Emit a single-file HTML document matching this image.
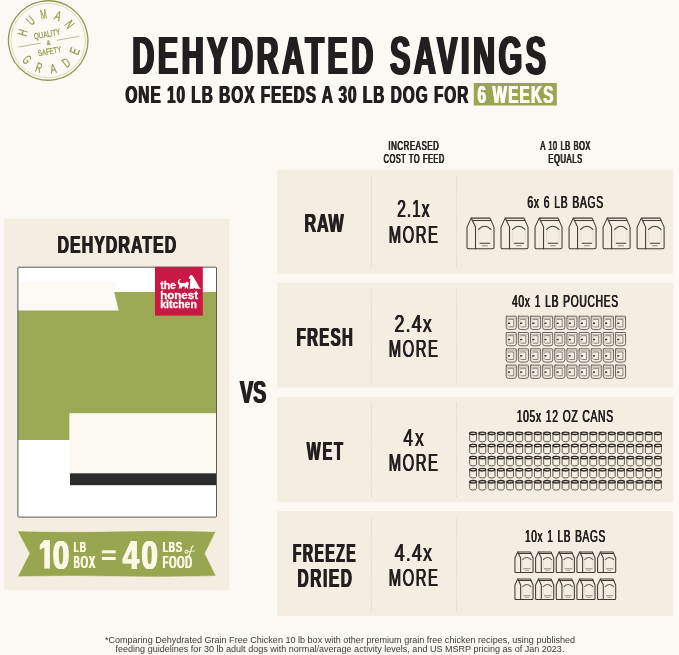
<!DOCTYPE html>
<html><head><meta charset="utf-8"><title>Dehydrated Savings</title>
<style>html,body{margin:0;padding:0;background:#fcf9f4;}body{width:679px;height:655px;overflow:hidden;font-family:"Liberation Sans",sans-serif;}svg text{white-space:pre;}.bagp path{vector-effect:non-scaling-stroke;}</style>
</head><body>
<svg width="679" height="655" viewBox="0 0 679 655" style="display:block;will-change:transform"><defs><symbol id="bag" viewBox="0 0 28 31.6" overflow="visible">
<g class="bagp" fill="none" stroke="#3f3a34" stroke-width="1.05" stroke-linejoin="round" stroke-linecap="round">
<path d="M4.7 0.5 H23.5 L27.5 9.5 V29.6 Q27.5 31.1 26 31.1 H2 Q0.5 31.1 0.5 29.6 V9.5 Z"/>
<path d="M4.7 0.5 L9 9.5 V31.1"/>
<path d="M5.8 2.9 H24.4"/>
<path d="M12 11.8 Q18.2 5.6 24.4 11.8" stroke-opacity="1"/>
<path d="M13.6 25.6 H23.2" stroke-opacity="1"/>
<path d="M15.8 28.1 H20.8" stroke-opacity="0.55"/>
<path d="M12 11.8 V24 M24.4 11.8 V24" stroke-opacity="0.08"/>
</g></symbol><symbol id="bag2" viewBox="0 0 28 31.6" overflow="visible">
<g class="bagp" fill="none" stroke="#3f3a34" stroke-width="1.05" stroke-linejoin="round" stroke-linecap="round">
<path d="M4.7 0.5 H23.5 L27.5 9.5 V29.6 Q27.5 31.1 26 31.1 H2 Q0.5 31.1 0.5 29.6 V9.5 Z"/>
<path d="M4.7 0.5 L9 9.5 V31.1"/>
<path d="M5.8 2.9 H24.4"/>
<path d="M12 11.8 Q18.2 5.6 24.4 11.8" stroke-opacity="0.8"/>
<path d="M13.6 25.6 H23.2" stroke-opacity="0.55"/>
<path d="M15.8 28.1 H20.8" stroke-opacity="0.35"/>
<path d="M12 11.8 V24 M24.4 11.8 V24" stroke-opacity="0.08"/>
</g></symbol><symbol id="pouch" viewBox="0 0 11 14.6" overflow="visible">
<g fill="none" stroke="#625e57" stroke-linejoin="round" stroke-linecap="round">
<path d="M1 0.6 H10 Q10.6 0.6 10.6 1.4 V11.6 Q10.6 13.9 8 13.9 H3 Q0.5 13.9 0.5 11.6 V1.4 Q0.5 0.6 1 0.6 Z" stroke-width="0.95"/>
<path d="M1 2.6 H10" stroke-width="0.7" stroke-opacity="0.6"/>
<path d="M3 3.8 H8 V11.3 H3.4" stroke-width="0.85" stroke-opacity="0.85"/>
<path d="M2.2 11.3 V9.2 M2.2 5.6 V4" stroke-width="0.7" stroke-opacity="0.5"/>
</g>
<rect x="2.2" y="6.9" width="2.2" height="1.5" fill="#3c3834"/>
</symbol><symbol id="can" viewBox="0 0 7.8 10.6" overflow="visible">
<g fill="none" stroke-linejoin="round" stroke-linecap="round">
<path d="M0.5 1.9 V8.6 Q0.5 10.2 3.9 10.2 Q7.3 10.2 7.3 8.6 V1.9" stroke="#5a564f" stroke-width="0.95"/>
<ellipse cx="3.9" cy="1.8" rx="3.4" ry="1.2" stroke="#2e2a27" stroke-width="1.3"/>
<path d="M0.5 2.9 Q3.9 4.6 7.3 2.9" stroke="#35312d" stroke-width="0.6" stroke-opacity="0.6"/>
</g></symbol><mask id="mk" maskUnits="userSpaceOnUse" x="0" y="0" width="679" height="655"><rect width="679" height="655" fill="#fff"/></mask></defs>
<g mask="url(#mk)">
<rect width="679" height="655" fill="#fcf9f4"/>
<rect x="473.8" y="83" width="83" height="22.5" fill="#98a652"/>
<rect x="4.1" y="218.8" width="225.2" height="371.1" fill="#f4ede1"/>
<rect x="17.9" y="267.2" width="198.6" height="249.90000000000003" fill="#ffffff"/>
<path d="M19.6 282.1 H117 L114.2 291.9 L118.7 310.4 H19.6 Z" fill="#fcfaf5"/>
<path d="M114.2 291.9 H216.5 V413.4 H69.6 V440 H17.9 V310.4 H118.7 Z" fill="#9ba854"/>
<rect x="69.6" y="413.4" width="146.9" height="60" fill="#fcf9f3"/>
<rect x="70" y="473.3" width="146.5" height="11.9" fill="#2c2c2e"/>
<rect x="17.9" y="267.2" width="198.6" height="249.90000000000003" rx="0.8" fill="none" stroke="#5c5a54" stroke-width="1"/>
<rect x="155" y="266.8" width="47.8" height="48.8" fill="#cb1743"/>
<g fill="#ffffff" stroke="#ffffff" stroke-width="0.3" font-family="Liberation Sans, sans-serif" font-weight="bold" font-size="10.4"><text x="160.2" y="288.8" textLength="15.8" lengthAdjust="spacingAndGlyphs">the</text><text x="160.2" y="299.3" textLength="37.8" lengthAdjust="spacingAndGlyphs">honest</text><text x="160.2" y="308.2" textLength="36.6" lengthAdjust="spacingAndGlyphs">kitchen</text></g>
<g fill="#ffffff"><path d="M178.9 284.6 C177.5 283 177.3 280.6 179.1 279.4 C180 278.8 181 279.3 180.9 280.1 C180.1 279.9 179.4 280.4 179.3 281.3 C179.2 282.3 179.9 282.9 180.9 283 L185.8 283 L186.3 281.5 L187.2 282.5 L188 281.6 L188.6 283.2 C189.2 284 188.8 285.2 187.8 285.5 L188.4 288.6 H187.1 L186.4 286.5 L185.9 288.6 H184.7 L184.9 286.4 H182.1 L181.7 288.6 H180.5 L180.6 286.5 L179.9 288.6 H178.7 L179.2 285.7 Z"/><path d="M188.9 277.5 L190.2 275.5 C190.8 274.8 192.1 274.9 192.7 275.9 C194.3 278.5 196.9 282 198.3 285.4 C198.7 286.6 199.5 287.6 200.5 288 L200.5 288.7 H195 L194.5 287.7 L193.2 288.7 H189.6 L190.2 284.2 C189.9 282 190.2 280.4 190.6 279.3 L189.3 278.7 Z"/></g>
<path d="M17.5 530.9 Q60 532.4 117 531.2 T215.8 531.7 L205 553.6 L216 576 Q160 577.6 117 576.6 T17.6 576.7 L29.4 553.5 Z" fill="#98a651" stroke="#fbf6d8" stroke-width="0.7" stroke-opacity="0.8"/>
<path d="M44.3 539.9 H49.9 V568.6 H44.3 V547.2 L39.8 550 V545 Z" fill="#fcf8e6"/>
<rect x="101.9" y="550.3" width="13.8" height="3.0" fill="#fcf8e6"/><rect x="101.9" y="557.0" width="13.8" height="3.0" fill="#fcf8e6"/>
<g fill="none" stroke="#fcf8e6" stroke-linecap="round"><ellipse cx="186.5" cy="551.7" rx="1.5" ry="1.35" stroke-width="0.95" transform="rotate(-20 186.5 551.7)"/><path d="M193.3 546.2 C192.4 545.6 191.9 547 191.5 548.4 L189.3 555.2 C189 556.1 188.3 556.3 187.9 555.7" stroke-width="1.15"/><path d="M187.9 551.3 C189.5 551.9 192 551.6 194.5 550.9" stroke-width="0.8"/></g>
<rect x="277.2" y="169.7" width="396.00000000000006" height="104.0" fill="#f4ede1"/>
<path d="M371.4 176.2 V268.7" stroke="#bdb4a4" stroke-width="0.8" stroke-dasharray="0.9 1.6" fill="none" opacity="0.75"/>
<path d="M456.5 176.2 V268.7" stroke="#bdb4a4" stroke-width="0.8" stroke-dasharray="0.9 1.6" fill="none" opacity="0.75"/>
<rect x="277.2" y="282.6" width="396.00000000000006" height="105.0" fill="#f4ede1"/>
<path d="M371.4 289.1 V382.6" stroke="#bdb4a4" stroke-width="0.8" stroke-dasharray="0.9 1.6" fill="none" opacity="0.75"/>
<path d="M456.5 289.1 V382.6" stroke="#bdb4a4" stroke-width="0.8" stroke-dasharray="0.9 1.6" fill="none" opacity="0.75"/>
<rect x="277.2" y="396.9" width="396.00000000000006" height="105.0" fill="#f4ede1"/>
<path d="M371.4 403.4 V496.9" stroke="#bdb4a4" stroke-width="0.8" stroke-dasharray="0.9 1.6" fill="none" opacity="0.75"/>
<path d="M456.5 403.4 V496.9" stroke="#bdb4a4" stroke-width="0.8" stroke-dasharray="0.9 1.6" fill="none" opacity="0.75"/>
<rect x="277.2" y="511.1" width="396.00000000000006" height="105.0" fill="#f4ede1"/>
<path d="M371.4 517.6 V611.1" stroke="#bdb4a4" stroke-width="0.8" stroke-dasharray="0.9 1.6" fill="none" opacity="0.75"/>
<path d="M456.5 517.6 V611.1" stroke="#bdb4a4" stroke-width="0.8" stroke-dasharray="0.9 1.6" fill="none" opacity="0.75"/>
<use href="#bag" x="466.50" y="217.6" width="28" height="31.6"/>
<use href="#bag" x="500.52" y="217.6" width="28" height="31.6"/>
<use href="#bag" x="534.54" y="217.6" width="28" height="31.6"/>
<use href="#bag" x="568.56" y="217.6" width="28" height="31.6"/>
<use href="#bag" x="602.58" y="217.6" width="28" height="31.6"/>
<use href="#bag" x="636.60" y="217.6" width="28" height="31.6"/>
<use href="#pouch" x="505.70" y="315.60" width="11" height="14.6"/>
<use href="#pouch" x="517.84" y="315.60" width="11" height="14.6"/>
<use href="#pouch" x="529.98" y="315.60" width="11" height="14.6"/>
<use href="#pouch" x="542.12" y="315.60" width="11" height="14.6"/>
<use href="#pouch" x="554.26" y="315.60" width="11" height="14.6"/>
<use href="#pouch" x="566.40" y="315.60" width="11" height="14.6"/>
<use href="#pouch" x="578.54" y="315.60" width="11" height="14.6"/>
<use href="#pouch" x="590.68" y="315.60" width="11" height="14.6"/>
<use href="#pouch" x="602.82" y="315.60" width="11" height="14.6"/>
<use href="#pouch" x="614.96" y="315.60" width="11" height="14.6"/>
<use href="#pouch" x="505.70" y="331.90" width="11" height="14.6"/>
<use href="#pouch" x="517.84" y="331.90" width="11" height="14.6"/>
<use href="#pouch" x="529.98" y="331.90" width="11" height="14.6"/>
<use href="#pouch" x="542.12" y="331.90" width="11" height="14.6"/>
<use href="#pouch" x="554.26" y="331.90" width="11" height="14.6"/>
<use href="#pouch" x="566.40" y="331.90" width="11" height="14.6"/>
<use href="#pouch" x="578.54" y="331.90" width="11" height="14.6"/>
<use href="#pouch" x="590.68" y="331.90" width="11" height="14.6"/>
<use href="#pouch" x="602.82" y="331.90" width="11" height="14.6"/>
<use href="#pouch" x="614.96" y="331.90" width="11" height="14.6"/>
<use href="#pouch" x="505.70" y="348.20" width="11" height="14.6"/>
<use href="#pouch" x="517.84" y="348.20" width="11" height="14.6"/>
<use href="#pouch" x="529.98" y="348.20" width="11" height="14.6"/>
<use href="#pouch" x="542.12" y="348.20" width="11" height="14.6"/>
<use href="#pouch" x="554.26" y="348.20" width="11" height="14.6"/>
<use href="#pouch" x="566.40" y="348.20" width="11" height="14.6"/>
<use href="#pouch" x="578.54" y="348.20" width="11" height="14.6"/>
<use href="#pouch" x="590.68" y="348.20" width="11" height="14.6"/>
<use href="#pouch" x="602.82" y="348.20" width="11" height="14.6"/>
<use href="#pouch" x="614.96" y="348.20" width="11" height="14.6"/>
<use href="#pouch" x="505.70" y="364.50" width="11" height="14.6"/>
<use href="#pouch" x="517.84" y="364.50" width="11" height="14.6"/>
<use href="#pouch" x="529.98" y="364.50" width="11" height="14.6"/>
<use href="#pouch" x="542.12" y="364.50" width="11" height="14.6"/>
<use href="#pouch" x="554.26" y="364.50" width="11" height="14.6"/>
<use href="#pouch" x="566.40" y="364.50" width="11" height="14.6"/>
<use href="#pouch" x="578.54" y="364.50" width="11" height="14.6"/>
<use href="#pouch" x="590.68" y="364.50" width="11" height="14.6"/>
<use href="#pouch" x="602.82" y="364.50" width="11" height="14.6"/>
<use href="#pouch" x="614.96" y="364.50" width="11" height="14.6"/>
<use href="#can" x="469.20" y="431.50" width="7.8" height="10.6"/>
<use href="#can" x="478.44" y="431.50" width="7.8" height="10.6"/>
<use href="#can" x="487.69" y="431.50" width="7.8" height="10.6"/>
<use href="#can" x="496.94" y="431.50" width="7.8" height="10.6"/>
<use href="#can" x="506.18" y="431.50" width="7.8" height="10.6"/>
<use href="#can" x="515.42" y="431.50" width="7.8" height="10.6"/>
<use href="#can" x="524.67" y="431.50" width="7.8" height="10.6"/>
<use href="#can" x="533.91" y="431.50" width="7.8" height="10.6"/>
<use href="#can" x="543.16" y="431.50" width="7.8" height="10.6"/>
<use href="#can" x="552.40" y="431.50" width="7.8" height="10.6"/>
<use href="#can" x="561.65" y="431.50" width="7.8" height="10.6"/>
<use href="#can" x="570.89" y="431.50" width="7.8" height="10.6"/>
<use href="#can" x="580.14" y="431.50" width="7.8" height="10.6"/>
<use href="#can" x="589.38" y="431.50" width="7.8" height="10.6"/>
<use href="#can" x="598.63" y="431.50" width="7.8" height="10.6"/>
<use href="#can" x="607.88" y="431.50" width="7.8" height="10.6"/>
<use href="#can" x="617.12" y="431.50" width="7.8" height="10.6"/>
<use href="#can" x="626.37" y="431.50" width="7.8" height="10.6"/>
<use href="#can" x="635.61" y="431.50" width="7.8" height="10.6"/>
<use href="#can" x="644.86" y="431.50" width="7.8" height="10.6"/>
<use href="#can" x="654.10" y="431.50" width="7.8" height="10.6"/>
<use href="#can" x="469.20" y="443.60" width="7.8" height="10.6"/>
<use href="#can" x="478.44" y="443.60" width="7.8" height="10.6"/>
<use href="#can" x="487.69" y="443.60" width="7.8" height="10.6"/>
<use href="#can" x="496.94" y="443.60" width="7.8" height="10.6"/>
<use href="#can" x="506.18" y="443.60" width="7.8" height="10.6"/>
<use href="#can" x="515.42" y="443.60" width="7.8" height="10.6"/>
<use href="#can" x="524.67" y="443.60" width="7.8" height="10.6"/>
<use href="#can" x="533.91" y="443.60" width="7.8" height="10.6"/>
<use href="#can" x="543.16" y="443.60" width="7.8" height="10.6"/>
<use href="#can" x="552.40" y="443.60" width="7.8" height="10.6"/>
<use href="#can" x="561.65" y="443.60" width="7.8" height="10.6"/>
<use href="#can" x="570.89" y="443.60" width="7.8" height="10.6"/>
<use href="#can" x="580.14" y="443.60" width="7.8" height="10.6"/>
<use href="#can" x="589.38" y="443.60" width="7.8" height="10.6"/>
<use href="#can" x="598.63" y="443.60" width="7.8" height="10.6"/>
<use href="#can" x="607.88" y="443.60" width="7.8" height="10.6"/>
<use href="#can" x="617.12" y="443.60" width="7.8" height="10.6"/>
<use href="#can" x="626.37" y="443.60" width="7.8" height="10.6"/>
<use href="#can" x="635.61" y="443.60" width="7.8" height="10.6"/>
<use href="#can" x="644.86" y="443.60" width="7.8" height="10.6"/>
<use href="#can" x="654.10" y="443.60" width="7.8" height="10.6"/>
<use href="#can" x="469.20" y="455.70" width="7.8" height="10.6"/>
<use href="#can" x="478.44" y="455.70" width="7.8" height="10.6"/>
<use href="#can" x="487.69" y="455.70" width="7.8" height="10.6"/>
<use href="#can" x="496.94" y="455.70" width="7.8" height="10.6"/>
<use href="#can" x="506.18" y="455.70" width="7.8" height="10.6"/>
<use href="#can" x="515.42" y="455.70" width="7.8" height="10.6"/>
<use href="#can" x="524.67" y="455.70" width="7.8" height="10.6"/>
<use href="#can" x="533.91" y="455.70" width="7.8" height="10.6"/>
<use href="#can" x="543.16" y="455.70" width="7.8" height="10.6"/>
<use href="#can" x="552.40" y="455.70" width="7.8" height="10.6"/>
<use href="#can" x="561.65" y="455.70" width="7.8" height="10.6"/>
<use href="#can" x="570.89" y="455.70" width="7.8" height="10.6"/>
<use href="#can" x="580.14" y="455.70" width="7.8" height="10.6"/>
<use href="#can" x="589.38" y="455.70" width="7.8" height="10.6"/>
<use href="#can" x="598.63" y="455.70" width="7.8" height="10.6"/>
<use href="#can" x="607.88" y="455.70" width="7.8" height="10.6"/>
<use href="#can" x="617.12" y="455.70" width="7.8" height="10.6"/>
<use href="#can" x="626.37" y="455.70" width="7.8" height="10.6"/>
<use href="#can" x="635.61" y="455.70" width="7.8" height="10.6"/>
<use href="#can" x="644.86" y="455.70" width="7.8" height="10.6"/>
<use href="#can" x="654.10" y="455.70" width="7.8" height="10.6"/>
<use href="#can" x="469.20" y="467.80" width="7.8" height="10.6"/>
<use href="#can" x="478.44" y="467.80" width="7.8" height="10.6"/>
<use href="#can" x="487.69" y="467.80" width="7.8" height="10.6"/>
<use href="#can" x="496.94" y="467.80" width="7.8" height="10.6"/>
<use href="#can" x="506.18" y="467.80" width="7.8" height="10.6"/>
<use href="#can" x="515.42" y="467.80" width="7.8" height="10.6"/>
<use href="#can" x="524.67" y="467.80" width="7.8" height="10.6"/>
<use href="#can" x="533.91" y="467.80" width="7.8" height="10.6"/>
<use href="#can" x="543.16" y="467.80" width="7.8" height="10.6"/>
<use href="#can" x="552.40" y="467.80" width="7.8" height="10.6"/>
<use href="#can" x="561.65" y="467.80" width="7.8" height="10.6"/>
<use href="#can" x="570.89" y="467.80" width="7.8" height="10.6"/>
<use href="#can" x="580.14" y="467.80" width="7.8" height="10.6"/>
<use href="#can" x="589.38" y="467.80" width="7.8" height="10.6"/>
<use href="#can" x="598.63" y="467.80" width="7.8" height="10.6"/>
<use href="#can" x="607.88" y="467.80" width="7.8" height="10.6"/>
<use href="#can" x="617.12" y="467.80" width="7.8" height="10.6"/>
<use href="#can" x="626.37" y="467.80" width="7.8" height="10.6"/>
<use href="#can" x="635.61" y="467.80" width="7.8" height="10.6"/>
<use href="#can" x="644.86" y="467.80" width="7.8" height="10.6"/>
<use href="#can" x="654.10" y="467.80" width="7.8" height="10.6"/>
<use href="#can" x="469.20" y="479.90" width="7.8" height="10.6"/>
<use href="#can" x="478.44" y="479.90" width="7.8" height="10.6"/>
<use href="#can" x="487.69" y="479.90" width="7.8" height="10.6"/>
<use href="#can" x="496.94" y="479.90" width="7.8" height="10.6"/>
<use href="#can" x="506.18" y="479.90" width="7.8" height="10.6"/>
<use href="#can" x="515.42" y="479.90" width="7.8" height="10.6"/>
<use href="#can" x="524.67" y="479.90" width="7.8" height="10.6"/>
<use href="#can" x="533.91" y="479.90" width="7.8" height="10.6"/>
<use href="#can" x="543.16" y="479.90" width="7.8" height="10.6"/>
<use href="#can" x="552.40" y="479.90" width="7.8" height="10.6"/>
<use href="#can" x="561.65" y="479.90" width="7.8" height="10.6"/>
<use href="#can" x="570.89" y="479.90" width="7.8" height="10.6"/>
<use href="#can" x="580.14" y="479.90" width="7.8" height="10.6"/>
<use href="#can" x="589.38" y="479.90" width="7.8" height="10.6"/>
<use href="#can" x="598.63" y="479.90" width="7.8" height="10.6"/>
<use href="#can" x="607.88" y="479.90" width="7.8" height="10.6"/>
<use href="#can" x="617.12" y="479.90" width="7.8" height="10.6"/>
<use href="#can" x="626.37" y="479.90" width="7.8" height="10.6"/>
<use href="#can" x="635.61" y="479.90" width="7.8" height="10.6"/>
<use href="#can" x="644.86" y="479.90" width="7.8" height="10.6"/>
<use href="#can" x="654.10" y="479.90" width="7.8" height="10.6"/>
<use href="#bag2" x="514.60" y="551.30" width="18.8" height="21.9"/>
<use href="#bag2" x="535.26" y="551.30" width="18.8" height="21.9"/>
<use href="#bag2" x="555.92" y="551.30" width="18.8" height="21.9"/>
<use href="#bag2" x="576.58" y="551.30" width="18.8" height="21.9"/>
<use href="#bag2" x="597.24" y="551.30" width="18.8" height="21.9"/>
<use href="#bag2" x="514.60" y="578.30" width="18.8" height="21.9"/>
<use href="#bag2" x="535.26" y="578.30" width="18.8" height="21.9"/>
<use href="#bag2" x="555.92" y="578.30" width="18.8" height="21.9"/>
<use href="#bag2" x="576.58" y="578.30" width="18.8" height="21.9"/>
<use href="#bag2" x="597.24" y="578.30" width="18.8" height="21.9"/>
<g transform="rotate(-10 48.2 40.5)" fill="#8e9b4e" stroke="#8e9b4e" stroke-width="0.25" font-family="Liberation Sans, sans-serif">
<circle cx="48.2" cy="40.5" r="39.7" fill="none" stroke="#8e9b4e" stroke-width="1.3"/>
<circle cx="48.2" cy="40.5" r="37.2" fill="none" stroke="#8e9b4e" stroke-width="0.45" stroke-opacity="0.7"/>
<text x="28.60" y="30.51" font-size="13.4" text-anchor="middle" transform="rotate(-63.0 28.60 30.51) " ><tspan textLength="6.16" lengthAdjust="spacingAndGlyphs">H</tspan></text>
<text x="36.71" y="21.74" font-size="13.4" text-anchor="middle" transform="rotate(-31.5 36.71 21.74) " ><tspan textLength="6.16" lengthAdjust="spacingAndGlyphs">U</tspan></text>
<text x="48.20" y="18.50" font-size="13.4" text-anchor="middle" transform="rotate(0.0 48.20 18.50) " ><tspan textLength="6.16" lengthAdjust="spacingAndGlyphs">M</tspan></text>
<text x="59.69" y="21.74" font-size="13.4" text-anchor="middle" transform="rotate(31.5 59.69 21.74) " ><tspan textLength="6.16" lengthAdjust="spacingAndGlyphs">A</tspan></text>
<text x="67.80" y="30.51" font-size="13.4" text-anchor="middle" transform="rotate(63.0 67.80 30.51) " ><tspan textLength="6.16" lengthAdjust="spacingAndGlyphs">N</tspan></text>
<text x="20.04" y="58.09" font-size="13.4" text-anchor="middle" transform="rotate(58.0 20.04 58.09) " ><tspan textLength="6.16" lengthAdjust="spacingAndGlyphs">G</tspan></text>
<text x="32.10" y="69.54" font-size="13.4" text-anchor="middle" transform="rotate(29.0 32.10 69.54) " ><tspan textLength="6.16" lengthAdjust="spacingAndGlyphs">R</tspan></text>
<text x="48.20" y="73.70" font-size="13.4" text-anchor="middle" transform="rotate(0.0 48.20 73.70) " ><tspan textLength="6.16" lengthAdjust="spacingAndGlyphs">A</tspan></text>
<text x="64.30" y="69.54" font-size="13.4" text-anchor="middle" transform="rotate(-29.0 64.30 69.54) " ><tspan textLength="6.16" lengthAdjust="spacingAndGlyphs">D</tspan></text>
<text x="76.36" y="58.09" font-size="13.4" text-anchor="middle" transform="rotate(-58.0 76.36 58.09) " ><tspan textLength="6.16" lengthAdjust="spacingAndGlyphs">E</tspan></text>
<text x="48.2" y="36.9" font-size="8.6" text-anchor="middle" textLength="26.5" lengthAdjust="spacingAndGlyphs">QUALITY</text>
<text x="48.2" y="44.9" font-size="6.6" text-anchor="middle" textLength="3.6" lengthAdjust="spacingAndGlyphs">&amp;</text>
<text x="47.7" y="54.3" font-size="8.6" text-anchor="middle" textLength="23.5" lengthAdjust="spacingAndGlyphs">SAFETY</text>
<path d="M17.6 41.8 H40.2 M56.6 41.8 H79.0" stroke="#8e9b4e" stroke-width="0.6" fill="none"/>
</g>
<text transform="translate(131.28 74.20) scale(0.5726 1)" font-family="Liberation Sans, sans-serif" font-weight="bold" font-size="52.91" fill="#231f20" letter-spacing="6.335" word-spacing="2.116">DEHYDRATED SAVINGS</text>
<text transform="translate(131.85 74.20) scale(0.5726 1)" font-family="Liberation Sans, sans-serif" font-weight="bold" font-size="52.91" fill="#231f20" letter-spacing="6.335" word-spacing="2.116">DEHYDRATED SAVINGS</text>
<text transform="translate(132.41 74.20) scale(0.5726 1)" font-family="Liberation Sans, sans-serif" font-weight="bold" font-size="52.91" fill="#231f20" letter-spacing="6.335" word-spacing="2.116">DEHYDRATED SAVINGS</text>
<text transform="translate(132.97 74.20) scale(0.5726 1)" font-family="Liberation Sans, sans-serif" font-weight="bold" font-size="52.91" fill="#231f20" letter-spacing="6.335" word-spacing="2.116">DEHYDRATED SAVINGS</text>
<text transform="translate(133.54 74.20) scale(0.5726 1)" font-family="Liberation Sans, sans-serif" font-weight="bold" font-size="52.91" fill="#231f20" letter-spacing="6.335" word-spacing="2.116">DEHYDRATED SAVINGS</text>
<text transform="translate(124.87 102.50) scale(0.6332 1)" font-family="Liberation Sans, sans-serif" font-weight="bold" font-size="24.27" fill="#231f20" letter-spacing="1.598">ONE 10 LB BOX FEEDS A 30 LB DOG FOR</text>
<text transform="translate(125.38 102.50) scale(0.6332 1)" font-family="Liberation Sans, sans-serif" font-weight="bold" font-size="24.27" fill="#231f20" letter-spacing="1.598">ONE 10 LB BOX FEEDS A 30 LB DOG FOR</text>
<text transform="translate(125.90 102.50) scale(0.6332 1)" font-family="Liberation Sans, sans-serif" font-weight="bold" font-size="24.27" fill="#231f20" letter-spacing="1.598">ONE 10 LB BOX FEEDS A 30 LB DOG FOR</text>
<text transform="translate(476.90 102.50) scale(0.6254 1)" font-family="Liberation Sans, sans-serif" font-weight="bold" font-size="24.27" fill="#fdfbf2" letter-spacing="2.019">6 WEEKS</text>
<text transform="translate(477.42 102.50) scale(0.6254 1)" font-family="Liberation Sans, sans-serif" font-weight="bold" font-size="24.27" fill="#fdfbf2" letter-spacing="2.019">6 WEEKS</text>
<text transform="translate(477.94 102.50) scale(0.6254 1)" font-family="Liberation Sans, sans-serif" font-weight="bold" font-size="24.27" fill="#fdfbf2" letter-spacing="2.019">6 WEEKS</text>
<text transform="translate(387.98 149.90) scale(0.6233 1)" font-family="Liberation Sans, sans-serif" font-weight="normal" font-size="12.5" fill="#231f20" letter-spacing="0.999">INCREASED</text>
<text transform="translate(388.38 149.90) scale(0.6233 1)" font-family="Liberation Sans, sans-serif" font-weight="normal" font-size="12.5" fill="#231f20" letter-spacing="0.999">INCREASED</text>
<text transform="translate(388.78 149.90) scale(0.6233 1)" font-family="Liberation Sans, sans-serif" font-weight="normal" font-size="12.5" fill="#231f20" letter-spacing="0.999">INCREASED</text>
<text transform="translate(383.30 162.70) scale(0.5861 1)" font-family="Liberation Sans, sans-serif" font-weight="normal" font-size="12.5" fill="#231f20" letter-spacing="0.943" word-spacing="0.625">COST TO FEED</text>
<text transform="translate(383.70 162.70) scale(0.5861 1)" font-family="Liberation Sans, sans-serif" font-weight="normal" font-size="12.5" fill="#231f20" letter-spacing="0.943" word-spacing="0.625">COST TO FEED</text>
<text transform="translate(384.10 162.70) scale(0.5861 1)" font-family="Liberation Sans, sans-serif" font-weight="normal" font-size="12.5" fill="#231f20" letter-spacing="0.943" word-spacing="0.625">COST TO FEED</text>
<text transform="translate(539.90 149.90) scale(0.5958 1)" font-family="Liberation Sans, sans-serif" font-weight="normal" font-size="12.5" fill="#231f20" letter-spacing="0.854" word-spacing="0.625">A 10 LB BOX</text>
<text transform="translate(540.30 149.90) scale(0.5958 1)" font-family="Liberation Sans, sans-serif" font-weight="normal" font-size="12.5" fill="#231f20" letter-spacing="0.854" word-spacing="0.625">A 10 LB BOX</text>
<text transform="translate(540.70 149.90) scale(0.5958 1)" font-family="Liberation Sans, sans-serif" font-weight="normal" font-size="12.5" fill="#231f20" letter-spacing="0.854" word-spacing="0.625">A 10 LB BOX</text>
<text transform="translate(547.90 162.70) scale(0.6033 1)" font-family="Liberation Sans, sans-serif" font-weight="normal" font-size="12.5" fill="#231f20" letter-spacing="1.097">EQUALS</text>
<text transform="translate(548.30 162.70) scale(0.6033 1)" font-family="Liberation Sans, sans-serif" font-weight="normal" font-size="12.5" fill="#231f20" letter-spacing="1.097">EQUALS</text>
<text transform="translate(548.70 162.70) scale(0.6033 1)" font-family="Liberation Sans, sans-serif" font-weight="normal" font-size="12.5" fill="#231f20" letter-spacing="1.097">EQUALS</text>
<text transform="translate(56.96 253.20) scale(0.6441 1)" font-family="Liberation Sans, sans-serif" font-weight="bold" font-size="24.71" fill="#231f20" letter-spacing="1.622">DEHYDRATED</text>
<text transform="translate(57.48 253.20) scale(0.6441 1)" font-family="Liberation Sans, sans-serif" font-weight="bold" font-size="24.71" fill="#231f20" letter-spacing="1.622">DEHYDRATED</text>
<text transform="translate(58.01 253.20) scale(0.6441 1)" font-family="Liberation Sans, sans-serif" font-weight="bold" font-size="24.71" fill="#231f20" letter-spacing="1.622">DEHYDRATED</text>
<text transform="translate(239.30 402.60) scale(0.6235 1)" font-family="Liberation Sans, sans-serif" font-weight="bold" font-size="31.69" fill="#231f20">VS</text>
<text transform="translate(239.98 402.60) scale(0.6235 1)" font-family="Liberation Sans, sans-serif" font-weight="bold" font-size="31.69" fill="#231f20">VS</text>
<text transform="translate(240.65 402.60) scale(0.6235 1)" font-family="Liberation Sans, sans-serif" font-weight="bold" font-size="31.69" fill="#231f20">VS</text>
<text transform="translate(304.06 231.80) scale(0.6425 1)" font-family="Liberation Sans, sans-serif" font-weight="bold" font-size="25.0" fill="#231f20" letter-spacing="1.203">RAW</text>
<text transform="translate(304.59 231.80) scale(0.6425 1)" font-family="Liberation Sans, sans-serif" font-weight="bold" font-size="25.0" fill="#231f20" letter-spacing="1.203">RAW</text>
<text transform="translate(305.12 231.80) scale(0.6425 1)" font-family="Liberation Sans, sans-serif" font-weight="bold" font-size="25.0" fill="#231f20" letter-spacing="1.203">RAW</text>
<text transform="translate(296.10 345.80) scale(0.5980 1)" font-family="Liberation Sans, sans-serif" font-weight="bold" font-size="25.0" fill="#231f20" letter-spacing="2.297">FRESH</text>
<text transform="translate(296.64 345.80) scale(0.5980 1)" font-family="Liberation Sans, sans-serif" font-weight="bold" font-size="25.0" fill="#231f20" letter-spacing="2.297">FRESH</text>
<text transform="translate(297.17 345.80) scale(0.5980 1)" font-family="Liberation Sans, sans-serif" font-weight="bold" font-size="25.0" fill="#231f20" letter-spacing="2.297">FRESH</text>
<text transform="translate(306.30 460.10) scale(0.5867 1)" font-family="Liberation Sans, sans-serif" font-weight="bold" font-size="25.0" fill="#231f20" letter-spacing="3.071">WET</text>
<text transform="translate(306.83 460.10) scale(0.5867 1)" font-family="Liberation Sans, sans-serif" font-weight="bold" font-size="25.0" fill="#231f20" letter-spacing="3.071">WET</text>
<text transform="translate(307.37 460.10) scale(0.5867 1)" font-family="Liberation Sans, sans-serif" font-weight="bold" font-size="25.0" fill="#231f20" letter-spacing="3.071">WET</text>
<text transform="translate(292.24 561.60) scale(0.5631 1)" font-family="Liberation Sans, sans-serif" font-weight="bold" font-size="25.0" fill="#231f20" letter-spacing="2.644">FREEZE</text>
<text transform="translate(292.77 561.60) scale(0.5631 1)" font-family="Liberation Sans, sans-serif" font-weight="bold" font-size="25.0" fill="#231f20" letter-spacing="2.644">FREEZE</text>
<text transform="translate(293.30 561.60) scale(0.5631 1)" font-family="Liberation Sans, sans-serif" font-weight="bold" font-size="25.0" fill="#231f20" letter-spacing="2.644">FREEZE</text>
<text transform="translate(296.88 586.70) scale(0.6198 1)" font-family="Liberation Sans, sans-serif" font-weight="bold" font-size="25.0" fill="#231f20" letter-spacing="2.582">DRIED</text>
<text transform="translate(297.41 586.70) scale(0.6198 1)" font-family="Liberation Sans, sans-serif" font-weight="bold" font-size="25.0" fill="#231f20" letter-spacing="2.582">DRIED</text>
<text transform="translate(297.95 586.70) scale(0.6198 1)" font-family="Liberation Sans, sans-serif" font-weight="bold" font-size="25.0" fill="#231f20" letter-spacing="2.582">DRIED</text>
<text transform="translate(396.77 217.30) scale(0.6315 1)" font-family="Liberation Sans, sans-serif" font-weight="normal" font-size="24.42" fill="#231f20" letter-spacing="1.664">2.1x</text>
<text transform="translate(397.21 217.30) scale(0.6315 1)" font-family="Liberation Sans, sans-serif" font-weight="normal" font-size="24.42" fill="#231f20" letter-spacing="1.664">2.1x</text>
<text transform="translate(397.64 217.30) scale(0.6315 1)" font-family="Liberation Sans, sans-serif" font-weight="normal" font-size="24.42" fill="#231f20" letter-spacing="1.664">2.1x</text>
<text transform="translate(388.29 242.60) scale(0.6068 1)" font-family="Liberation Sans, sans-serif" font-weight="normal" font-size="24.42" fill="#231f20" letter-spacing="2.627">MORE</text>
<text transform="translate(388.72 242.60) scale(0.6068 1)" font-family="Liberation Sans, sans-serif" font-weight="normal" font-size="24.42" fill="#231f20" letter-spacing="2.627">MORE</text>
<text transform="translate(389.16 242.60) scale(0.6068 1)" font-family="Liberation Sans, sans-serif" font-weight="normal" font-size="24.42" fill="#231f20" letter-spacing="2.627">MORE</text>
<text transform="translate(394.07 331.60) scale(0.7277 1)" font-family="Liberation Sans, sans-serif" font-weight="normal" font-size="24.42" fill="#231f20" letter-spacing="1.664">2.4x</text>
<text transform="translate(394.51 331.60) scale(0.7277 1)" font-family="Liberation Sans, sans-serif" font-weight="normal" font-size="24.42" fill="#231f20" letter-spacing="1.664">2.4x</text>
<text transform="translate(394.95 331.60) scale(0.7277 1)" font-family="Liberation Sans, sans-serif" font-weight="normal" font-size="24.42" fill="#231f20" letter-spacing="1.664">2.4x</text>
<text transform="translate(388.29 356.80) scale(0.6068 1)" font-family="Liberation Sans, sans-serif" font-weight="normal" font-size="24.42" fill="#231f20" letter-spacing="2.627">MORE</text>
<text transform="translate(388.72 356.80) scale(0.6068 1)" font-family="Liberation Sans, sans-serif" font-weight="normal" font-size="24.42" fill="#231f20" letter-spacing="2.627">MORE</text>
<text transform="translate(389.16 356.80) scale(0.6068 1)" font-family="Liberation Sans, sans-serif" font-weight="normal" font-size="24.42" fill="#231f20" letter-spacing="2.627">MORE</text>
<text transform="translate(403.00 446.40) scale(0.7083 1)" font-family="Liberation Sans, sans-serif" font-weight="normal" font-size="24.42" fill="#231f20" letter-spacing="2.842">4x</text>
<text transform="translate(403.44 446.40) scale(0.7083 1)" font-family="Liberation Sans, sans-serif" font-weight="normal" font-size="24.42" fill="#231f20" letter-spacing="2.842">4x</text>
<text transform="translate(403.87 446.40) scale(0.7083 1)" font-family="Liberation Sans, sans-serif" font-weight="normal" font-size="24.42" fill="#231f20" letter-spacing="2.842">4x</text>
<text transform="translate(388.29 471.20) scale(0.6068 1)" font-family="Liberation Sans, sans-serif" font-weight="normal" font-size="24.42" fill="#231f20" letter-spacing="2.627">MORE</text>
<text transform="translate(388.72 471.20) scale(0.6068 1)" font-family="Liberation Sans, sans-serif" font-weight="normal" font-size="24.42" fill="#231f20" letter-spacing="2.627">MORE</text>
<text transform="translate(389.16 471.20) scale(0.6068 1)" font-family="Liberation Sans, sans-serif" font-weight="normal" font-size="24.42" fill="#231f20" letter-spacing="2.627">MORE</text>
<text transform="translate(394.30 561.40) scale(0.7256 1)" font-family="Liberation Sans, sans-serif" font-weight="normal" font-size="24.42" fill="#231f20" letter-spacing="1.701">4.4x</text>
<text transform="translate(394.74 561.40) scale(0.7256 1)" font-family="Liberation Sans, sans-serif" font-weight="normal" font-size="24.42" fill="#231f20" letter-spacing="1.701">4.4x</text>
<text transform="translate(395.17 561.40) scale(0.7256 1)" font-family="Liberation Sans, sans-serif" font-weight="normal" font-size="24.42" fill="#231f20" letter-spacing="1.701">4.4x</text>
<text transform="translate(388.29 586.20) scale(0.6068 1)" font-family="Liberation Sans, sans-serif" font-weight="normal" font-size="24.42" fill="#231f20" letter-spacing="2.627">MORE</text>
<text transform="translate(388.72 586.20) scale(0.6068 1)" font-family="Liberation Sans, sans-serif" font-weight="normal" font-size="24.42" fill="#231f20" letter-spacing="2.627">MORE</text>
<text transform="translate(389.16 586.20) scale(0.6068 1)" font-family="Liberation Sans, sans-serif" font-weight="normal" font-size="24.42" fill="#231f20" letter-spacing="2.627">MORE</text>
<text transform="translate(527.10 208.20) scale(0.6076 1)" font-family="Liberation Sans, sans-serif" font-weight="normal" font-size="17.01" fill="#231f20" letter-spacing="1.130" word-spacing="0.851">6x 6 LB BAGS</text>
<text transform="translate(527.40 208.20) scale(0.6076 1)" font-family="Liberation Sans, sans-serif" font-weight="normal" font-size="17.01" fill="#231f20" letter-spacing="1.130" word-spacing="0.851">6x 6 LB BAGS</text>
<text transform="translate(527.71 208.20) scale(0.6076 1)" font-family="Liberation Sans, sans-serif" font-weight="normal" font-size="17.01" fill="#231f20" letter-spacing="1.130" word-spacing="0.851">6x 6 LB BAGS</text>
<text transform="translate(511.70 306.50) scale(0.6028 1)" font-family="Liberation Sans, sans-serif" font-weight="normal" font-size="17.01" fill="#231f20" letter-spacing="1.171" word-spacing="0.851">40x 1 LB POUCHES</text>
<text transform="translate(512.00 306.50) scale(0.6028 1)" font-family="Liberation Sans, sans-serif" font-weight="normal" font-size="17.01" fill="#231f20" letter-spacing="1.171" word-spacing="0.851">40x 1 LB POUCHES</text>
<text transform="translate(512.31 306.50) scale(0.6028 1)" font-family="Liberation Sans, sans-serif" font-weight="normal" font-size="17.01" fill="#231f20" letter-spacing="1.171" word-spacing="0.851">40x 1 LB POUCHES</text>
<text transform="translate(516.40 422.30) scale(0.6012 1)" font-family="Liberation Sans, sans-serif" font-weight="normal" font-size="17.15" fill="#231f20" letter-spacing="1.136" word-spacing="0.857">105x 12 OZ CANS</text>
<text transform="translate(516.71 422.30) scale(0.6012 1)" font-family="Liberation Sans, sans-serif" font-weight="normal" font-size="17.15" fill="#231f20" letter-spacing="1.136" word-spacing="0.857">105x 12 OZ CANS</text>
<text transform="translate(517.01 422.30) scale(0.6012 1)" font-family="Liberation Sans, sans-serif" font-weight="normal" font-size="17.15" fill="#231f20" letter-spacing="1.136" word-spacing="0.857">105x 12 OZ CANS</text>
<text transform="translate(524.71 542.00) scale(0.5941 1)" font-family="Liberation Sans, sans-serif" font-weight="normal" font-size="17.01" fill="#231f20" letter-spacing="1.114" word-spacing="0.851">10x 1 LB BAGS</text>
<text transform="translate(525.01 542.00) scale(0.5941 1)" font-family="Liberation Sans, sans-serif" font-weight="normal" font-size="17.01" fill="#231f20" letter-spacing="1.114" word-spacing="0.851">10x 1 LB BAGS</text>
<text transform="translate(525.31 542.00) scale(0.5941 1)" font-family="Liberation Sans, sans-serif" font-weight="normal" font-size="17.01" fill="#231f20" letter-spacing="1.114" word-spacing="0.851">10x 1 LB BAGS</text>
<text transform="translate(51.89 568.60) scale(0.7143 1)" font-family="Liberation Sans, sans-serif" font-weight="bold" font-size="41.57" fill="#fcf8e6">0</text>
<text transform="translate(52.64 568.60) scale(0.7143 1)" font-family="Liberation Sans, sans-serif" font-weight="bold" font-size="41.57" fill="#fcf8e6">0</text>
<text transform="translate(53.39 568.60) scale(0.7143 1)" font-family="Liberation Sans, sans-serif" font-weight="bold" font-size="41.57" fill="#fcf8e6">0</text>
<text transform="translate(122.00 568.60) scale(0.7029 1)" font-family="Liberation Sans, sans-serif" font-weight="bold" font-size="41.57" fill="#fcf8e6" letter-spacing="3.396">40</text>
<text transform="translate(122.75 568.60) scale(0.7029 1)" font-family="Liberation Sans, sans-serif" font-weight="bold" font-size="41.57" fill="#fcf8e6" letter-spacing="3.396">40</text>
<text transform="translate(123.50 568.60) scale(0.7029 1)" font-family="Liberation Sans, sans-serif" font-weight="bold" font-size="41.57" fill="#fcf8e6" letter-spacing="3.396">40</text>
<text transform="translate(73.17 551.90) scale(0.5926 1)" font-family="Liberation Sans, sans-serif" font-weight="normal" font-size="15.41" fill="#fcf8e6" letter-spacing="1.974" stroke="#fcf8e6" stroke-width="0.2">LB</text>
<text transform="translate(73.62 551.90) scale(0.5926 1)" font-family="Liberation Sans, sans-serif" font-weight="normal" font-size="15.41" fill="#fcf8e6" letter-spacing="1.974" stroke="#fcf8e6" stroke-width="0.2">LB</text>
<text transform="translate(74.07 551.90) scale(0.5926 1)" font-family="Liberation Sans, sans-serif" font-weight="normal" font-size="15.41" fill="#fcf8e6" letter-spacing="1.974" stroke="#fcf8e6" stroke-width="0.2">LB</text>
<text transform="translate(73.17 568.20) scale(0.5860 1)" font-family="Liberation Sans, sans-serif" font-weight="normal" font-size="15.7" fill="#fcf8e6" letter-spacing="1.826" stroke="#fcf8e6" stroke-width="0.2">BOX</text>
<text transform="translate(73.62 568.20) scale(0.5860 1)" font-family="Liberation Sans, sans-serif" font-weight="normal" font-size="15.7" fill="#fcf8e6" letter-spacing="1.826" stroke="#fcf8e6" stroke-width="0.2">BOX</text>
<text transform="translate(74.07 568.20) scale(0.5860 1)" font-family="Liberation Sans, sans-serif" font-weight="normal" font-size="15.7" fill="#fcf8e6" letter-spacing="1.826" stroke="#fcf8e6" stroke-width="0.2">BOX</text>
<text transform="translate(162.26 551.90) scale(0.6001 1)" font-family="Liberation Sans, sans-serif" font-weight="normal" font-size="15.41" fill="#fcf8e6" letter-spacing="1.558" stroke="#fcf8e6" stroke-width="0.2">LBS</text>
<text transform="translate(162.71 551.90) scale(0.6001 1)" font-family="Liberation Sans, sans-serif" font-weight="normal" font-size="15.41" fill="#fcf8e6" letter-spacing="1.558" stroke="#fcf8e6" stroke-width="0.2">LBS</text>
<text transform="translate(163.16 551.90) scale(0.6001 1)" font-family="Liberation Sans, sans-serif" font-weight="normal" font-size="15.41" fill="#fcf8e6" letter-spacing="1.558" stroke="#fcf8e6" stroke-width="0.2">LBS</text>
<text transform="translate(162.28 568.20) scale(0.5805 1)" font-family="Liberation Sans, sans-serif" font-weight="normal" font-size="15.7" fill="#fcf8e6" letter-spacing="1.637" stroke="#fcf8e6" stroke-width="0.2">FOOD</text>
<text transform="translate(162.73 568.20) scale(0.5805 1)" font-family="Liberation Sans, sans-serif" font-weight="normal" font-size="15.7" fill="#fcf8e6" letter-spacing="1.637" stroke="#fcf8e6" stroke-width="0.2">FOOD</text>
<text transform="translate(163.18 568.20) scale(0.5805 1)" font-family="Liberation Sans, sans-serif" font-weight="normal" font-size="15.7" fill="#fcf8e6" letter-spacing="1.637" stroke="#fcf8e6" stroke-width="0.2">FOOD</text>
<text transform="translate(104.90 642.60) scale(0.9308 1)" font-family="Liberation Sans, sans-serif" font-weight="normal" font-size="9.74" fill="#3b3836">*Comparing Dehydrated Grain Free Chicken 10 lb box with other premium grain free chicken recipes, using published</text>
<text transform="translate(115.50 652.30) scale(0.9285 1)" font-family="Liberation Sans, sans-serif" font-weight="normal" font-size="9.74" fill="#3b3836">feeding guidelines for 30 lb adult dogs with normal/average activity levels, and US MSRP pricing as of Jan 2023.</text>
</g>
</svg>
</body></html>
